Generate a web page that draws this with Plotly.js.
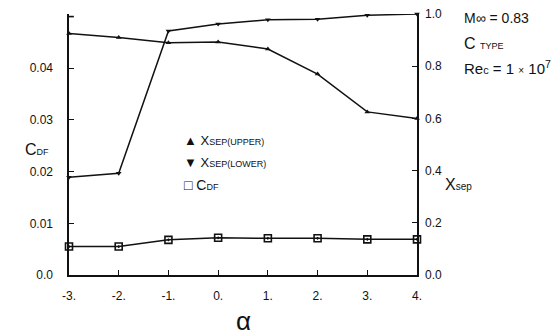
<!DOCTYPE html>
<html>
<head>
<meta charset="utf-8">
<script src="https://cdn.plot.ly/plotly-3.0.1.min.js"></script>
<style>html,body{margin:0;padding:0;background:#fff;}#chart{width:557px;height:336px;}</style>
</head>
<body>
<div id="chart"></div>
<script>
const alpha = [-3, -2, -1, 0, 1, 2, 3, 4];
const xsepUpper = [0.925, 0.91, 0.89, 0.893, 0.866, 0.77, 0.625, 0.60];
const xsepLower = [0.375, 0.39, 0.935, 0.962, 0.978, 0.98, 0.995, 1.0];
const cdf = [0.0055, 0.0055, 0.0068, 0.0072, 0.0071, 0.0071, 0.0069, 0.0069];
const xTickVals = [-3, -2, -1, 0, 1, 2, 3, 4];
const xTickText = ['-3.', '-2.', '-1.', '0.', '1.', '2.', '3.', '4.'];
const yTickVals = [0, 0.01, 0.02, 0.03, 0.04];
const yTickText = ['0.0', '0.01', '0.02', '0.03', '0.04'];
const y2TickVals = [0, 0.2, 0.4, 0.6, 0.8, 1.0];
const y2TickText = ['0.0', '0.2', '0.4', '0.6', '0.8', '1.0'];

const ink = '#111';
const font = 'Liberation Sans, Arial, sans-serif';

const traces = [
  {x: alpha, y: xsepUpper, yaxis: 'y2', mode: 'lines+markers', cliponaxis: false,
   line: {color: ink, width: 1.5}, marker: {symbol: 'triangle-up', size: 5, color: ink}, name: 'Xsep(UPPER)'},
  {x: alpha, y: xsepLower, yaxis: 'y2', mode: 'lines+markers', cliponaxis: false,
   line: {color: ink, width: 1.5}, marker: {symbol: 'triangle-down', size: 5, color: ink}, name: 'Xsep(LOWER)'},
  {x: alpha, y: cdf, yaxis: 'y', mode: 'lines+markers', cliponaxis: false,
   line: {color: ink, width: 1.5}, marker: {symbol: 'square-open-dot', size: 7, color: ink, line: {width: 1.6, color: ink}}, name: 'CDF'}
];

const layout = {
  width: 557, height: 336,
  margin: {l: 69, r: 140, t: 14, b: 61},
  paper_bgcolor: '#fff', plot_bgcolor: '#fff',
  showlegend: false,
  font: {family: font, color: ink, size: 12},
  xaxis: {range: [-3, 4], tickvals: xTickVals, ticktext: xTickText, showline: true, linecolor: ink, linewidth: 1.6,
          ticks: 'inside', ticklen: 5, tickcolor: ink, showgrid: false, zeroline: false,
          ticklabelstandoff: 9, tickfont: {size: 12, family: font}},
  yaxis: {range: [0, 0.0505], tickvals: yTickVals, ticktext: yTickText, showline: true, linecolor: ink, linewidth: 1.6,
          ticks: 'inside', ticklen: 5, tickcolor: ink, showgrid: false, zeroline: false,
          ticklabelstandoff: 12, tickfont: {size: 12, family: font}},
  yaxis2: {range: [0, 1.0], overlaying: 'y', side: 'right', tickvals: y2TickVals, ticktext: y2TickText,
           showline: true, linecolor: ink, linewidth: 1.6, ticks: 'inside', ticklen: 5, tickcolor: ink,
           showgrid: false, zeroline: false, ticklabelstandoff: 4, tickfont: {size: 12, family: font}},
  shapes: [
    {type: 'line', xref: 'paper', yref: 'y', x0: 0, x1: 0.014, y0: 0.05, y1: 0.05, line: {color: ink, width: 1.6}}
  ],
  annotations: [
    {xref: 'paper', yref: 'paper', x: 0.5, y: 0, yshift: -46, text: 'α', showarrow: false,
     font: {size: 26, family: font}, xanchor: 'center', yanchor: 'middle'},
    {xref: 'paper', yref: 'paper', x: 0, xshift: -46, y: 0.48, text: 'C<span style="font-size:9px">DF</span>',
     showarrow: false, font: {size: 16, family: font}, xanchor: 'left', yanchor: 'middle'},
    {xref: 'paper', yref: 'paper', x: 1, xshift: 26, y: 0.345, text: 'X<span style="font-size:10px">sep</span>',
     showarrow: false, font: {size: 16, family: font}, xanchor: 'left', yanchor: 'middle'},
    {xref: 'paper', yref: 'paper', x: 1, xshift: 45, y: 1, yshift: -4, text: 'M∞ = 0.83',
     showarrow: false, font: {size: 14, family: font}, xanchor: 'left', yanchor: 'middle'},
    {xref: 'paper', yref: 'paper', x: 1, xshift: 45, y: 1, yshift: -29, text: 'C <span style="font-size:9px">TYPE</span>',
     showarrow: false, font: {size: 16, family: font}, xanchor: 'left', yanchor: 'middle'},
    {xref: 'paper', yref: 'paper', x: 1, xshift: 45, y: 1, yshift: -53, text: 'Re<span style="font-size:11px">c</span> = 1 <span style="font-size:10px">×</span> 10<sup>7</sup>',
     showarrow: false, font: {size: 15, family: font}, xanchor: 'left', yanchor: 'middle'},
    {xref: 'paper', yref: 'paper', x: 0.325, y: 0.515, text: '▲ X<span style="font-size:9px">SEP(UPPER)</span>',
     showarrow: false, font: {size: 13, family: font}, xanchor: 'left', yanchor: 'middle'},
    {xref: 'paper', yref: 'paper', x: 0.325, y: 0.43, text: '▼ X<span style="font-size:9px">SEP(LOWER)</span>',
     showarrow: false, font: {size: 13, family: font}, xanchor: 'left', yanchor: 'middle'},
    {xref: 'paper', yref: 'paper', x: 0.325, y: 0.345, text: '□ C<span style="font-size:9px">DF</span>',
     showarrow: false, font: {size: 14, family: font}, xanchor: 'left', yanchor: 'middle'}
  ]
};

Plotly.newPlot('chart', traces, layout, {displayModeBar: false, staticPlot: true});
</script>
</body>
</html>
